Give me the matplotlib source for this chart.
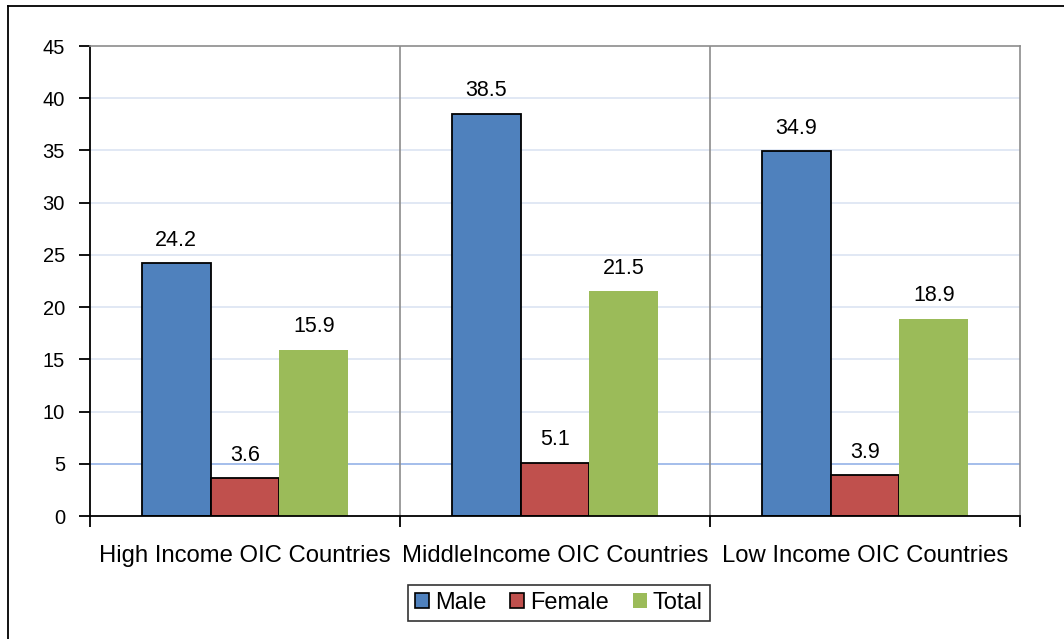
import matplotlib
matplotlib.use("Agg")
import matplotlib.pyplot as plt
from matplotlib.lines import Line2D
from matplotlib.patches import Patch
import numpy as np

plt.rcParams['font.family'] = ['Liberation Sans', 'DejaVu Sans']

categories = ["High Income OIC Countries", "MiddleIncome OIC Countries", "Low Income OIC Countries"]
series_names = ["Male", "Female", "Total"]
male = [24.2, 38.5, 34.9]
female = [3.6, 5.1, 3.9]
total = [15.9, 21.5, 18.9]
yticks = [0, 5, 10, 15, 20, 25, 30, 35, 40, 45]

colors = ["#4F81BD", "#C0504D", "#9BBB59"]
edges = ["black", "black", "none"]

fig = plt.figure(figsize=(10.64, 6.39), dpi=100)
ax = fig.add_axes([90/1064, 1-516/639, 930/1064, 470/639])

x = np.arange(len(categories))
w = 0.222
for i, (vals, c, ec) in enumerate(zip([male, female, total], colors, edges)):
    pos = x + (i-1)*w
    ax.bar(pos, vals, width=w, color=c, edgecolor=ec, linewidth=1.3 if ec != "none" else 0, zorder=3)
    for p, v in zip(pos, vals):
        ax.text(p, v + 1.2, f"{v:.1f}", ha="center", va="bottom", fontsize=15.5, zorder=4)

ax.set_xlim(-0.5, len(categories)-0.5)
ax.set_ylim(0, 45)
ax.set_yticks(yticks)
ax.set_yticklabels([str(t) for t in yticks], fontsize=14.5)
for t in yticks[1:-1]:
    col = "#95B3E7" if t == 5 else "#DCE4F2"
    ax.axhline(t, color=col, linewidth=1.2, zorder=1)

# category separators
for b in [0.5, 1.5]:
    ax.axvline(b, color="#8C8C8C", linewidth=1.2, zorder=2)

ax.set_xticks([-0.5, 0.5, 1.5, 2.5])
ax.set_xticklabels([])
ax.tick_params(axis='x', direction='out', length=8, width=1.3)
ax.tick_params(axis='y', direction='out', length=8, width=1.3, pad=10)
for i, c in enumerate(categories):
    ax.text(i, -0.085, c, transform=ax.get_xaxis_transform(), ha="center", va="center", fontsize=17.2)

ax.spines['left'].set_linewidth(1.3)
ax.spines['bottom'].set_linewidth(1.3)
ax.spines['bottom'].set_zorder(5)
ax.spines['top'].set_color("#8C8C8C")
ax.spines['right'].set_color("#8C8C8C")
ax.spines['top'].set_linewidth(1.2)
ax.spines['right'].set_linewidth(1.2)

handles = [Patch(facecolor=c, edgecolor=ec, linewidth=1.2 if ec != "none" else 0) for c, ec in zip(colors, edges)]
leg = fig.legend(handles, series_names, loc="center", bbox_to_anchor=(559/1064, 1-603/639),
                 ncol=3, fontsize=17, frameon=True, fancybox=False, edgecolor="black",
                 handlelength=0.6, handleheight=0.6, handletextpad=0.25, columnspacing=1.0,
                 borderpad=0.3)
leg.get_frame().set_linewidth(1.2)

# outer chart border (left and top visible)
fig.add_artist(Line2D([8/1064, 8/1064], [0, 1-6/639], transform=fig.transFigure, color="black", linewidth=1.3))
fig.add_artist(Line2D([8/1064, 1], [1-6/639, 1-6/639], transform=fig.transFigure, color="black", linewidth=1.3))

fig.savefig("out.png", dpi=100)
